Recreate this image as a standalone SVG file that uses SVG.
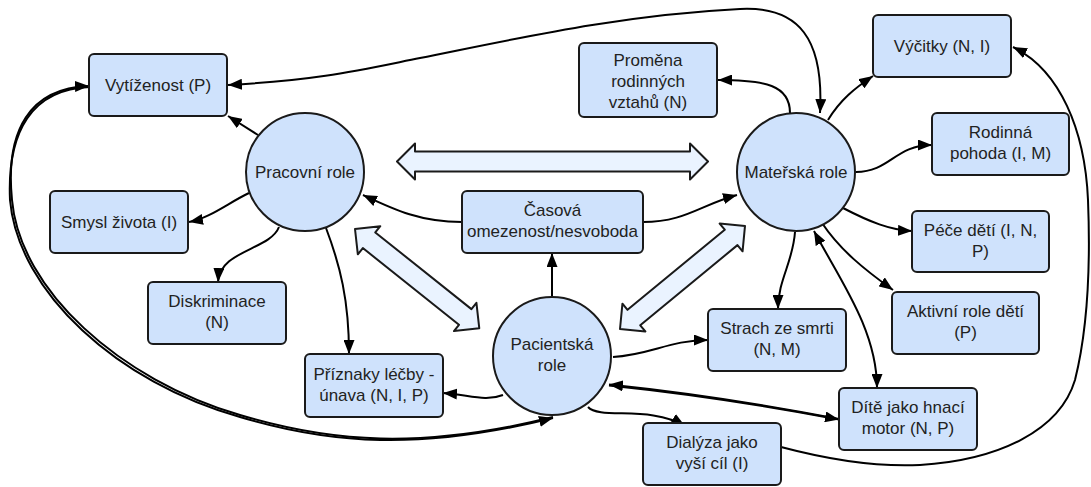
<svg xmlns="http://www.w3.org/2000/svg" width="1091" height="487" viewBox="0 0 1091 487">
<style>
.box{fill:#cfe2fc;stroke:#1a1a1a;stroke-width:2}
.blk{fill:#eaf3ff;stroke:#1a1a1a;stroke-width:2;stroke-linejoin:round}
.t{font-family:"Liberation Sans",Arial,sans-serif;font-size:17px;fill:#222;text-anchor:middle}
.c{fill:none;stroke:#000;stroke-width:2}
</style>
<defs>
<marker id="ah" viewBox="0 0 14 11" refX="14" refY="5.5" markerWidth="14" markerHeight="11" markerUnits="userSpaceOnUse" orient="auto-start-reverse">
<path d="M0,0 L14,5.5 L0,11 z" fill="#000"/>
</marker>
</defs>
<rect width="1091" height="487" fill="#fff"/>

<g id="block-arrows">
<polygon class="blk" transform="translate(397,161.5)" points="0,0 18,-18 18,-10 293,-10 293,-18 311,0 293,18 293,10 18,10 18,18"/>
<polygon class="blk" transform="translate(355,229) rotate(38.6)" points="0,0 18,-18 18,-10 141,-10 141,-18 159,0 141,18 141,10 18,10 18,18"/>
<polygon class="blk" transform="translate(620,329) rotate(-39.5)" points="0,0 18,-18 18,-10 144,-10 144,-18 162,0 144,18 144,10 18,10 18,18"/>
</g>

<g id="connectors">
<path class="c" d="M258,135 L228,116" marker-end="url(#ah)"/>
<path class="c" d="M249,193 C228,203 210,218 189,222" marker-end="url(#ah)"/>
<path class="c" d="M279,227 C270,250 220,250 218,282" marker-end="url(#ah)"/>
<path class="c" d="M326,228 C340,265 349,300 349,354" marker-end="url(#ah)"/>
<path class="c" d="M462,222 C420,222 395,210 363,195" marker-end="url(#ah)"/>
<path class="c" d="M643,222 C685,222 700,205 737,195" marker-end="url(#ah)"/>
<path class="c" d="M552,297 L552,253" marker-end="url(#ah)"/>
<path class="c" d="M503,395 C485,402 470,395 443,393" marker-end="url(#ah)"/>
<path class="c" d="M613,357 C650,355 670,340 708,340" marker-end="url(#ah)"/>
<path class="c" d="M588,407 C600,420 650,405 685,426" marker-end="url(#ah)"/>
<path class="c" d="M839,419 Q720,396 609,384.5" marker-end="url(#ah)"/>
<path class="c" d="M609,385.5 Q720,397 839,419.5" marker-end="url(#ah)"/>
<path class="c" d="M781,447 C830,460 880,467 920,465 C1000,460 1060,430 1075,380 C1090,320 1090,250 1088,200 C1085,130 1060,70 1013,47" marker-end="url(#ah)"/>
<path class="c" d="M228,85 C320,80 360,70 420,58 C520,38 620,15 740,9 C800,6 824,40 820,113" marker-start="url(#ah)" marker-end="url(#ah)"/>
<path class="c" d="M790,113 C790,85 765,80 718,80" marker-end="url(#ah)"/>
<path class="c" d="M828,120 C840,100 855,88 873,76" marker-end="url(#ah)"/>
<path class="c" d="M856,172 C890,172 895,145 932,145" marker-end="url(#ah)"/>
<path class="c" d="M843,208 C870,222 890,230 912,231" marker-end="url(#ah)"/>
<path class="c" d="M822,223 C840,250 865,270 893,290" marker-end="url(#ah)"/>
<path class="c" d="M814,231 C840,280 877,330 877,388" marker-start="url(#ah)" marker-end="url(#ah)"/>
<path class="c" d="M795,232 C793,262 778,280 778,309" marker-end="url(#ah)"/>
<path class="c" d="M553,417 C420,450 330,442 240,415 C120,380 20,290 12,200 C5,130 30,88 89,86" marker-end="url(#ah)"/>
<path class="c" d="M90,87 C32,89 7,131 10,200 C18,292 118,383 240,417 C330,444 420,451 553,418" marker-end="url(#ah)"/>
</g>

<g id="vytizenost"><rect class="box" x="89" y="54" width="138" height="62" rx="5"/><text class="t" x="158" y="91">Vytíženost (P)</text></g>
<g id="smysl"><rect class="box" x="50" y="191" width="138" height="62" rx="5"/><text class="t" x="119" y="228">Smysl života (I)</text></g>
<g id="diskriminace"><rect class="box" x="148" y="282" width="138" height="62" rx="5"/><text class="t" x="217" y="307">Diskriminace</text><text class="t" x="217" y="328">(N)</text></g>
<g id="priznaky"><rect class="box" x="305" y="354" width="138" height="63" rx="5"/><text class="t" x="374" y="380">Příznaky léčby -</text><text class="t" x="374" y="401">únava (N, I, P)</text></g>
<g id="casova"><rect class="box" x="462" y="191" width="181" height="62" rx="5"/><text class="t" x="552.5" y="216">Časová</text><text class="t" x="552.5" y="237">omezenost/nesvoboda</text></g>
<g id="promena"><rect class="box" x="579" y="43" width="138" height="74" rx="5"/><text class="t" x="648" y="66">Proměna</text><text class="t" x="648" y="87">rodinných</text><text class="t" x="648" y="108">vztahů (N)</text></g>
<g id="vycitky"><rect class="box" x="873" y="15" width="138" height="62" rx="5"/><text class="t" x="942" y="52">Výčitky (N, I)</text></g>
<g id="rodinna"><rect class="box" x="932" y="113" width="137" height="62" rx="5"/><text class="t" x="1000.5" y="138">Rodinná</text><text class="t" x="1000.5" y="159">pohoda (I, M)</text></g>
<g id="pece"><rect class="box" x="912" y="211" width="137" height="61" rx="5"/><text class="t" x="980.5" y="236">Péče dětí (I, N,</text><text class="t" x="980.5" y="257">P)</text></g>
<g id="aktivni"><rect class="box" x="892" y="292" width="147" height="62" rx="5"/><text class="t" x="965.5" y="317">Aktivní role dětí</text><text class="t" x="965.5" y="338">(P)</text></g>
<g id="dite"><rect class="box" x="839" y="388" width="138" height="62" rx="5"/><text class="t" x="908" y="413">Dítě jako hnací</text><text class="t" x="908" y="434">motor (N, P)</text></g>
<g id="strach"><rect class="box" x="708" y="309" width="138" height="62" rx="5"/><text class="t" x="777" y="334">Strach ze smrti</text><text class="t" x="777" y="355">(N, M)</text></g>
<g id="dialyza"><rect class="box" x="643" y="423" width="138" height="62" rx="5"/><text class="t" x="712" y="448">Dialýza jako</text><text class="t" x="712" y="469">vyší cíl (I)</text></g>

<g id="pracovni"><circle class="box" cx="305" cy="172" r="59"/><text class="t" x="305" y="178">Pracovní role</text></g>
<g id="materska"><circle class="box" cx="796" cy="172" r="59"/><text class="t" x="796" y="178">Mateřská role</text></g>
<g id="pacientska"><circle class="box" cx="552" cy="356" r="59"/><text class="t" x="552" y="350">Pacientská</text><text class="t" x="552" y="371">role</text></g>
</svg>
